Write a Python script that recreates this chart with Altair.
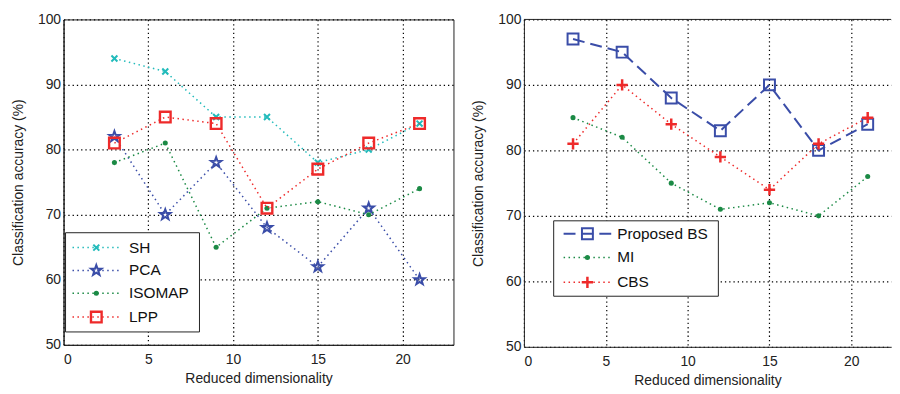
import altair as alt
import pandas as pd
import numpy as np

# ---------------- data ----------------
dims = [3, 6, 9, 12, 15, 18, 21]

sh = [94, 92, 85, 85, 78, 80, 84]
pca = [82, 70, 78, 68, 62, 71, 60]
isomap = [78, 81, 65, 71, 72, 70, 74]
lpp = [81, 85, 84, 71, 77, 81, 84]

proposed_bs = [97, 95, 88, 83, 90, 80, 84]
mi = [85, 82, 75, 71, 72, 70, 76]
cbs = [81, 90, 84, 79, 74, 81, 85]

x_ticks = [0, 5, 10, 15, 20]
y_ticks = [50, 60, 70, 80, 90, 100]

# ---------------- styles ----------------
FONT = "Liberation Sans"
CYAN = "#22BBBB"
BLUE = "#3A4DA8"
GREEN = "#1B8A45"
RED = "#EE2A2A"

SQUARE = "M-1,-1L1,-1L1,1L-1,1Z"
XMARK = "M-1,-1L1,1M-1,1L1,-1"
PLUS = "M-1,0L1,0M0,-1L0,1"
pts = []
for k in range(10):
    r = 1.0 if k % 2 == 0 else 0.40
    a = -np.pi / 2 + k * np.pi / 5
    pts.append(f"{r*np.cos(a):.3f},{r*np.sin(a):.3f}")
STAR = "M" + "L".join(pts) + "Z"

DOT = [1.5, 3.5]
DASH = [12, 6]


def xenc(dmax):
    return alt.X("x:Q", scale=alt.Scale(domain=[0, dmax], nice=False, zero=False),
                 axis=alt.Axis(values=x_ticks, title="Reduced dimensionality"))


def yenc():
    return alt.Y("y:Q", scale=alt.Scale(domain=[50, 100], nice=False, zero=False),
                 axis=alt.Axis(values=y_ticks, title="Classification accuracy (%)"))


def series(vals, color, dash, lw, shape, size, filled, mw, dmax):
    df = pd.DataFrame({"x": dims, "y": vals})
    base = alt.Chart(df)
    line = base.mark_line(color=color, strokeDash=dash, strokeWidth=lw).encode(x=xenc(dmax), y=yenc())
    if filled:
        pt = base.mark_point(shape=shape, size=size, filled=True, color=color, opacity=1)
    else:
        pt = base.mark_point(shape=shape, size=size, filled=False, color=color,
                             strokeWidth=mw, opacity=1)
    pt = pt.encode(x=xenc(dmax), y=yenc())
    return [line, pt]


one = pd.DataFrame({"a": [0]})


def legend(box, rows, lx1, lx2, mx, tx, items, fs):
    layers = [alt.Chart(one).mark_rect(fill="white", stroke="#222", strokeWidth=1).encode(
        x=alt.value(box[0]), x2=alt.value(box[1]), y=alt.value(box[2]), y2=alt.value(box[3]))]
    for ry, (name, color, dash, lw, shape, size, filled, mw) in zip(rows, items):
        layers.append(alt.Chart(one).mark_rule(color=color, strokeDash=dash, strokeWidth=lw).encode(
            x=alt.value(lx1), x2=alt.value(lx2), y=alt.value(ry)))
        if filled:
            p = alt.Chart(one).mark_point(shape=shape, size=size, filled=True, color=color, opacity=1)
        else:
            p = alt.Chart(one).mark_point(shape=shape, size=size, filled=False, color=color,
                                          strokeWidth=mw, opacity=1)
        layers.append(p.encode(x=alt.value(mx), y=alt.value(ry)))
        layers.append(alt.Chart(one).mark_text(align="left", baseline="middle", font=FONT,
                                               fontSize=fs, color="#111").encode(
            x=alt.value(tx), y=alt.value(ry), text=alt.value(name)))
    return layers


# ---------------- left panel ----------------
LW, LH = 393, 328
left_items = [
    ("SH", CYAN, DOT, 1.5, XMARK, 36, False, 2),
    ("PCA", BLUE, DOT, 1.5, STAR, 120, False, 2),
    ("ISOMAP", GREEN, DOT, 1.5, "circle", 26, True, 1),
    ("LPP", RED, DOT, 1.5, SQUARE, 115, False, 2.4),
]
left_layers = []
for vals, it in zip([sh, pca, isomap, lpp], left_items):
    left_layers += series(vals, it[1], it[2], it[3], it[4], it[5], it[6], it[7], 23)
left_layers += legend((2, 137, 215, 315), [230, 253, 276, 300], 9, 57, 33, 66, left_items, 15.5)
left = alt.layer(*left_layers).properties(
    width=LW, height=LH, view=alt.ViewBackground(stroke="#222", strokeWidth=1))

# ---------------- right panel ----------------
RW, RH = 370, 330
right_items = [
    ("Proposed BS", BLUE, DASH, 2, SQUARE, 121, False, 2),
    ("MI", GREEN, DOT, 1.5, "circle", 26, True, 1),
    ("CBS", RED, DOT, 1.5, PLUS, 130, False, 2.5),
]
right_layers = [alt.Chart(one).mark_rule(color="#222", strokeWidth=1).encode(
    x=alt.value(0), x2=alt.value(RW), y=alt.value(0))]
for vals, it in zip([proposed_bs, mi, cbs], right_items):
    right_layers += series(vals, it[1], it[2], it[3], it[4], it[5], it[6], it[7], RW / 16.5)
right_layers += legend((30, 196, 203, 279), [216, 240, 265], 40, 88, 64, 94, right_items, 15.5)
right = alt.layer(*right_layers).properties(
    width=RW, height=RH, view=alt.ViewBackground(stroke="transparent"))

chart = alt.hconcat(left, right, spacing=17).properties(
    padding={"left": 3, "top": 2, "right": 0, "bottom": 0}
).configure_axis(
    labelFont=FONT, titleFont=FONT, labelFontSize=14, titleFontSize=14,
    titleFontWeight="normal", labelColor="#222", titleColor="#222",
    grid=True, gridColor="#000", gridOpacity=1, gridDash=[1.3, 3], gridWidth=1.2,
    ticks=False, domain=True, domainColor="#222", domainWidth=1,
).configure_axisY(
    labelPadding=3, titlePadding=12, tickSize=0,
).configure_axisX(
    labelPadding=8, titlePadding=5,
)

chart.save("out.html", embed_options={"renderer": "svg", "actions": False})
